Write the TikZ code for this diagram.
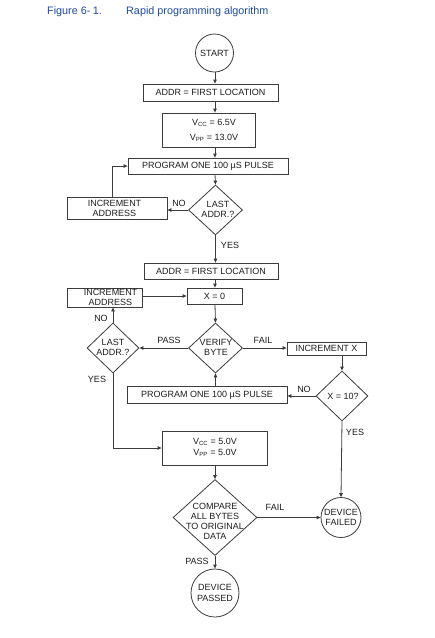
\documentclass[tikz,border=0pt]{standalone}
\usepackage{fontspec}
\setmainfont{Liberation Sans}
\usetikzlibrary{shapes.geometric,arrows.meta,calc}
\definecolor{ttl}{RGB}{30,75,160}
\definecolor{ln}{RGB}{60,60,60}
\definecolor{tx}{RGB}{30,30,30}
\begin{document}
\begin{tikzpicture}[x=1pt,y=-1pt,
  every node/.style={font=\fontsize{9}{10}\selectfont, text=tx, inner sep=0pt},
  box/.style={draw=ln, line width=0.8pt, rectangle},
  dia/.style={draw=ln, line width=0.8pt, diamond},
  circ/.style={draw=ln, line width=0.8pt, circle, align=center},
  arr/.style={draw=ln, line width=0.8pt, -{Triangle[length=4pt,width=3.5pt]}},
  txt/.style={align=center}
]
\fill[white] (0,0) rectangle (435,638);
\useasboundingbox (0,0) rectangle (435,638);

% title
\node[anchor=west, text=ttl, font=\fontsize{10.8}{12}\selectfont] (fig) at (47,12) {Figure 6-\kern2.5pt1.};
\node[anchor=west, text=ttl, font=\fontsize{10.8}{12}\selectfont] (cap) at (126,12) {Rapid programming algorithm};

\coordinate (mx) at (215,0);

% upper part
\node[circ, minimum size=38pt] (start) at (214.5,53) {START};
\node[box, minimum width=135pt, minimum height=17pt] (addr1) at (210.5,92.5) {ADDR = FIRST LOCATION};
\node[box, minimum width=93pt, minimum height=34pt] (vcc1) at (208.5,130) {};
\node[txt] (vcc1t) at (214,130) {V\textsubscript{CC} = 6.5V\\[5pt]V\textsubscript{PP} = 13.0V};
\node[box, minimum width=160pt, minimum height=16pt] (prog1) at (208,166) {PROGRAM ONE 100 µS PULSE};
\node[dia, minimum width=54pt, minimum height=50pt] (d1) at (215.5,210) {};
\node[txt] (d1t) at (218,209) {LAST\\ADDR.?};
\node[box, minimum width=100pt, minimum height=22pt] (inca1) at (117,208) {};
\node[txt] (inca1t) at (114.5,208) {INCREMENT\\ADDRESS};
\node[box, minimum width=134pt, minimum height=16pt] (addr2) at (211,271) {ADDR = FIRST LOCATION};

% middle part
\node[box, minimum width=75pt, minimum height=19pt] (inca2) at (104.5,297.5) {};
\node[txt] (inca2t) at (110.5,297.5) {INCREMENT\\ADDRESS};
\node[box, minimum width=55pt, minimum height=16pt] (xzero) at (214.5,296) {X = 0};
\node[dia, minimum width=54pt, minimum height=50pt] (verify) at (215.5,348) {};
\node[txt] (verifyt) at (216,347.5) {VERIFY\\BYTE};
\node[dia, minimum width=52pt, minimum height=50pt] (d2) at (113,348) {};
\node[txt] (d2t) at (113,347.5) {LAST\\ADDR.?};
\node[box, minimum width=79pt, minimum height=13pt] (incx) at (326.5,348.5) {INCREMENT X};
\node[dia, minimum width=52pt, minimum height=50pt] (xten) at (342,396) {};
\node[txt] (xtent) at (343,396.5) {X = 10?};
\node[box, minimum width=160pt, minimum height=17pt] (prog2) at (207,395) {PROGRAM ONE 100 µS PULSE};

% lower part
\node[box, minimum width=105pt, minimum height=34pt] (vcc2) at (214.5,448) {};
\node[txt] (vcc2t) at (215,447.5) {V\textsubscript{CC} = 5.0V\\[1.5pt]V\textsubscript{PP} = 5.0V};
\node[dia, minimum width=84pt, minimum height=76pt] (cmp) at (215,517.5) {};
\node[txt] (cmpt) at (215,521) {COMPARE\\ALL BYTES\\TO ORIGINAL\\DATA};
\node[circ, minimum size=40pt] (failed) at (341,517.5) {DEVICE\\FAILED};
\node[circ, minimum size=48pt] (passed) at (215,593) {DEVICE\\[1pt]PASSED};

% connectors
\draw[arr] (mx |- start.south) -- (mx |- addr1.north);
\draw[arr] (mx |- addr1.south) -- (mx |- vcc1.north);
\draw[arr] (mx |- vcc1.south) -- (mx |- prog1.north);
\draw[arr] (mx |- prog1.south) -- (d1.north);
\draw[arr] (d1.west) -- (d1.west -| inca1.east);
\draw[arr] ([xshift=-5pt]inca1.north) |- (prog1.west);
\draw[arr] (d1.south) -- (d1.south |- addr2.north);
\draw[arr] (mx |- addr2.south) -- (mx |- xzero.north);
\draw[arr] (mx |- xzero.south) -- (verify.north);
\draw[arr] (inca2.east |- xzero.west) -- (xzero.west);
\draw[arr] (verify.west) -- (d2.east);
\draw[arr] (d2.north) -- (d2.north |- inca2.south);
\draw[arr] (verify.east) -- (verify.east -| incx.west);
\draw[arr] (xten.north |- incx.south) -- (xten.north);
\draw[arr] (xten.west) -- (xten.west -| prog2.east);
\draw[arr] (verify.south |- prog2.north) -- (verify.south);
\draw[arr] (d2.south) |- (vcc2.west);
\draw[arr] (xten.south) -- (failed.north);
\draw[arr] (mx |- vcc2.south) -- (cmp.north);
\draw[arr] (cmp.east) -- (failed.west);
\draw[arr] (cmp.south) -- (passed.north);

% labels
\node (l1) at (179,203) {NO};
\node (l2) at (230,245) {YES};
\node (l3) at (101,318) {NO};
\node (l4) at (169,340) {PASS};
\node (l5) at (263,340) {FAIL};
\node (l6) at (97,379) {YES};
\node (l7) at (304,389) {NO};
\node (l8) at (355,432) {YES};
\node (l9) at (275,507) {FAIL};
\node (l10) at (197,561) {PASS};
\end{tikzpicture}
\end{document}
